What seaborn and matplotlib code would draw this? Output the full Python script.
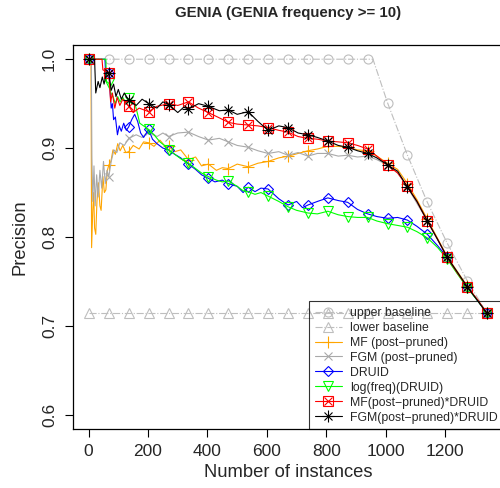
import seaborn as sns
import matplotlib.pyplot as plt
from matplotlib.lines import Line2D

# marker positions (every 67 instances)
marker_x = [1, 68, 135, 202, 269, 336, 403, 470, 537, 604, 671, 738, 805,
            872, 939, 1006, 1073, 1140, 1207, 1274, 1341]

# baselines
upper_x = marker_x[:15] + [957] + marker_x[15:]
upper_y = [1.0] * 15 + [1.0, 0.951, 0.892, 0.839, 0.793, 0.751, 0.714]
lower_x = marker_x
lower_y = [0.714] * 21

# MF (post-pruned)
mf_x = [1, 8, 10, 14, 17, 20, 24, 28, 33, 38, 42, 48, 53, 58, 63, 68, 75, 82, 90, 98,
        106, 115, 125, 135, 150, 170, 185, 202, 220, 240, 255, 269, 290, 310, 336, 360,
        380, 403, 430, 450, 470, 500, 537, 570, 604, 640, 671, 705, 738, 770, 805, 840,
        872, 905, 939, 970, 1006, 1040, 1073, 1105, 1140, 1207, 1274, 1341]
mf_y = [1.0, 1.0, 0.788, 0.83, 0.85, 0.81, 0.803, 0.84, 0.861, 0.835, 0.83, 0.868, 0.85,
        0.853, 0.875, 0.881, 0.885, 0.898, 0.893, 0.905, 0.897, 0.903, 0.895, 0.896, 0.903,
        0.899, 0.907, 0.906, 0.902, 0.909, 0.903, 0.902, 0.896, 0.898, 0.887, 0.890, 0.880,
        0.882, 0.875, 0.878, 0.877, 0.882, 0.879, 0.883, 0.885, 0.889, 0.891, 0.894, 0.897,
        0.899, 0.902, 0.902, 0.901, 0.898, 0.897, 0.891, 0.883, 0.876, 0.860, 0.842, 0.820,
        0.778, 0.745, 0.714]

# FGM (post-pruned)
fgm_x = [1, 9, 11, 14, 18, 22, 27, 32, 38, 44, 50, 56, 62, 68, 76, 85, 95, 105, 120, 135,
         160, 180, 202, 230, 250, 269, 300, 336, 370, 403, 440, 470, 500, 537, 570, 604,
         640, 671, 705, 738, 770, 805, 840, 872, 905, 939, 970, 1006, 1040, 1073, 1140,
         1207, 1274, 1341]
fgm_y = [1.0, 1.0, 0.89, 0.84, 0.88, 0.835, 0.87, 0.845, 0.875, 0.855, 0.885, 0.86, 0.875,
         0.868, 0.885, 0.898, 0.895, 0.906, 0.903, 0.911, 0.915, 0.912, 0.919, 0.913, 0.917,
         0.913, 0.917, 0.918, 0.913, 0.909, 0.911, 0.907, 0.903, 0.901, 0.897, 0.894, 0.896,
         0.892, 0.895, 0.891, 0.894, 0.894, 0.891, 0.892, 0.890, 0.891, 0.887, 0.881, 0.872,
         0.856, 0.818, 0.777, 0.744, 0.714]

# DRUID
druid_x = [1, 55, 57, 68, 72, 76, 80, 84, 90, 97, 103, 110, 118, 127, 135, 145, 155, 165,
           175, 185, 202, 215, 230, 250, 269, 290, 310, 336, 360, 380, 403, 425, 450, 470,
           500, 520, 537, 560, 580, 604, 640, 671, 700, 720, 738, 770, 805, 840, 872, 905,
           939, 970, 1006, 1040, 1073, 1105, 1140, 1175, 1207, 1240, 1274, 1310, 1341]
druid_y = [1.0, 1.0, 0.985, 0.985, 0.965, 0.945, 0.950, 0.932, 0.935, 0.915, 0.925, 0.919,
           0.928, 0.920, 0.924, 0.932, 0.938, 0.930, 0.917, 0.912, 0.921, 0.910, 0.905,
           0.900, 0.898, 0.893, 0.889, 0.882, 0.876, 0.870, 0.866, 0.862, 0.864, 0.860,
           0.857, 0.850, 0.856, 0.851, 0.855, 0.854, 0.843, 0.836, 0.840, 0.833, 0.836,
           0.840, 0.844, 0.841, 0.839, 0.831, 0.826, 0.823, 0.821, 0.822, 0.819, 0.812,
           0.803, 0.790, 0.777, 0.760, 0.744, 0.728, 0.714]

# log(freq)(DRUID)
logf_x = [1, 58, 60, 68, 75, 82, 90, 98, 106, 115, 125, 135, 145, 155, 165, 172, 185, 202,
          220, 240, 255, 269, 290, 310, 336, 360, 380, 403, 430, 450, 470, 500, 520, 537,
          560, 580, 604, 640, 671, 700, 738, 770, 805, 840, 872, 905, 939, 970, 1006, 1040,
          1073, 1105, 1140, 1175, 1207, 1240, 1274, 1310, 1341]
logf_y = [1.0, 1.0, 0.975, 0.973, 0.962, 0.958, 0.950, 0.958, 0.952, 0.957, 0.951, 0.956,
          0.950, 0.951, 0.938, 0.928, 0.925, 0.921, 0.915, 0.907, 0.903, 0.898, 0.893,
          0.888, 0.883, 0.877, 0.872, 0.868, 0.864, 0.862, 0.863, 0.857, 0.852, 0.851,
          0.848, 0.850, 0.846, 0.840, 0.834, 0.830, 0.827, 0.826, 0.829, 0.825, 0.823,
          0.822, 0.822, 0.818, 0.815, 0.813, 0.811, 0.806, 0.799, 0.788, 0.775, 0.759,
          0.743, 0.728, 0.714]

# MF(post-pruned)*DRUID
mfd_x = [1, 45, 48, 68, 74, 80, 88, 96, 105, 115, 135, 150, 170, 202, 230, 269, 300, 336,
         370, 403, 440, 470, 500, 537, 570, 604, 640, 671, 705, 738, 770, 805, 840, 872,
         905, 939, 970, 1006, 1040, 1073, 1105, 1140, 1175, 1207, 1240, 1274, 1310, 1341]
mfd_y = [1.0, 1.0, 0.988, 0.985, 0.952, 0.962, 0.945, 0.957, 0.948, 0.955, 0.947, 0.940,
         0.945, 0.941, 0.947, 0.950, 0.948, 0.952, 0.945, 0.940, 0.934, 0.929, 0.927,
         0.926, 0.925, 0.923, 0.920, 0.918, 0.913, 0.911, 0.910, 0.908, 0.907, 0.906,
         0.903, 0.899, 0.891, 0.881, 0.872, 0.857, 0.840, 0.818, 0.797, 0.777, 0.760,
         0.744, 0.729, 0.714]

# FGM(post-pruned)*DRUID
fgmd_x = [1, 20, 24, 32, 38, 46, 52, 60, 68, 76, 84, 92, 100, 110, 120, 135, 160, 180, 202,
          230, 250, 269, 300, 320, 336, 370, 403, 440, 470, 500, 537, 570, 604, 640, 671,
          705, 738, 770, 805, 840, 872, 905, 939, 970, 1006, 1040, 1073, 1105, 1140, 1175,
          1207, 1240, 1274, 1310, 1341]
fgmd_y = [1.0, 1.0, 0.962, 0.975, 0.968, 0.980, 0.972, 0.985, 0.985, 0.965, 0.972, 0.958,
          0.966, 0.955, 0.962, 0.954, 0.948, 0.955, 0.950, 0.945, 0.952, 0.949, 0.940,
          0.946, 0.944, 0.950, 0.947, 0.942, 0.943, 0.938, 0.941, 0.930, 0.920, 0.925,
          0.923, 0.917, 0.915, 0.912, 0.908, 0.903, 0.901, 0.897, 0.894, 0.889, 0.881,
          0.874, 0.856, 0.840, 0.818, 0.797, 0.777, 0.761, 0.744, 0.728, 0.714]

labels = ['upper baseline', 'lower baseline', 'MF (post\u2212pruned)', 'FGM (post\u2212pruned)',
          'DRUID', 'log(freq)(DRUID)', 'MF(post\u2212pruned)*DRUID', 'FGM(post\u2212pruned)*DRUID']

sns.set_style('ticks')
plt.rcParams['font.family'] = ['Liberation Sans', 'DejaVu Sans']

fig = plt.figure(figsize=(5, 4.88), dpi=100)
ax = fig.add_axes([0.146, 0.1209, 0.86, 0.7869])

# (x, y, color, linestyle, markers)
series = [
    (upper_x, upper_y, '#BEBEBE', '-.', ['o']),
    (lower_x, lower_y, '#BEBEBE', '-.', ['^']),
    (mf_x, mf_y, '#FFA500', '-', ['+']),
    (fgm_x, fgm_y, '#A9A9A9', '-', ['x']),
    (druid_x, druid_y, '#0000FF', '-', ['D']),
    (logf_x, logf_y, '#00FF00', '-', ['v']),
    (mfd_x, mfd_y, '#FF0000', '-', ['s', 'x']),
    (fgmd_x, fgmd_y, '#000000', '-', ['+', 'x']),
]
sizes = {'o': 6.5, '^': 7, '+': 8, 'x': 6, 'D': 5.5, 'v': 7, 's': 6.5}

handles = []
for xs, ys, col, ls, mks in series:
    sns.lineplot(x=xs, y=ys, color=col, linestyle=ls, linewidth=0.8,
                 estimator=None, sort=False, ax=ax)
    mx = [x for x in xs if x in marker_x]
    my = [y for x, y in zip(xs, ys) if x in marker_x]
    parts = []
    for i, m in enumerate(mks):
        ms = sizes[m]
        if m == 'x' and len(mks) > 1:
            ms = 5.2
        ax.plot(mx, my, linestyle='none', marker=m, markersize=ms, markerfacecolor='none',
                markeredgecolor=col, markeredgewidth=0.8)
        parts.append(Line2D([], [], color=col, linestyle=ls if i == 0 else 'none',
                            linewidth=0.8, marker=m, markersize=ms,
                            markerfacecolor='none', markeredgecolor=col,
                            markeredgewidth=0.8))
    handles.append(tuple(parts) if len(parts) > 1 else parts[0])

ax.set_xlim(-52.6, 1394.6)
ax.set_ylim(0.584, 1.016)
ax.set_xticks([0, 200, 400, 600, 800, 1000, 1200])
ax.set_yticks([0.6, 0.7, 0.8, 0.9, 1.0])
ax.set_yticklabels(['0.6', '0.7', '0.8', '0.9', '1.0'], rotation=90, va='center')
ax.tick_params(axis='both', length=5.5, width=0.8, labelsize=12.5, color='black', pad=5)
ax.tick_params(axis='y', pad=6)
for sp in ax.spines.values():
    sp.set_color('black')
    sp.set_linewidth(0.9)

ax.set_xlabel('Number of instances', fontsize=13.2, labelpad=4)
ax.set_ylabel('Precision', fontsize=13.2, labelpad=10)
fig.text(0.576, 1 - 13 / 488, 'GENIA (GENIA frequency >= 10)', ha='center', va='center',
         fontsize=10.8, fontweight='bold')

leg = ax.legend(handles, labels, loc='lower right', borderaxespad=0, fontsize=8.8,
                handlelength=2.2, handletextpad=0.65, labelspacing=0.24, borderpad=0.45,
                fancybox=False, frameon=True)
leg.get_frame().set_facecolor('none')
leg.get_frame().set_edgecolor('black')
leg.get_frame().set_linewidth(0.8)

fig.savefig('out.png', dpi=100)
